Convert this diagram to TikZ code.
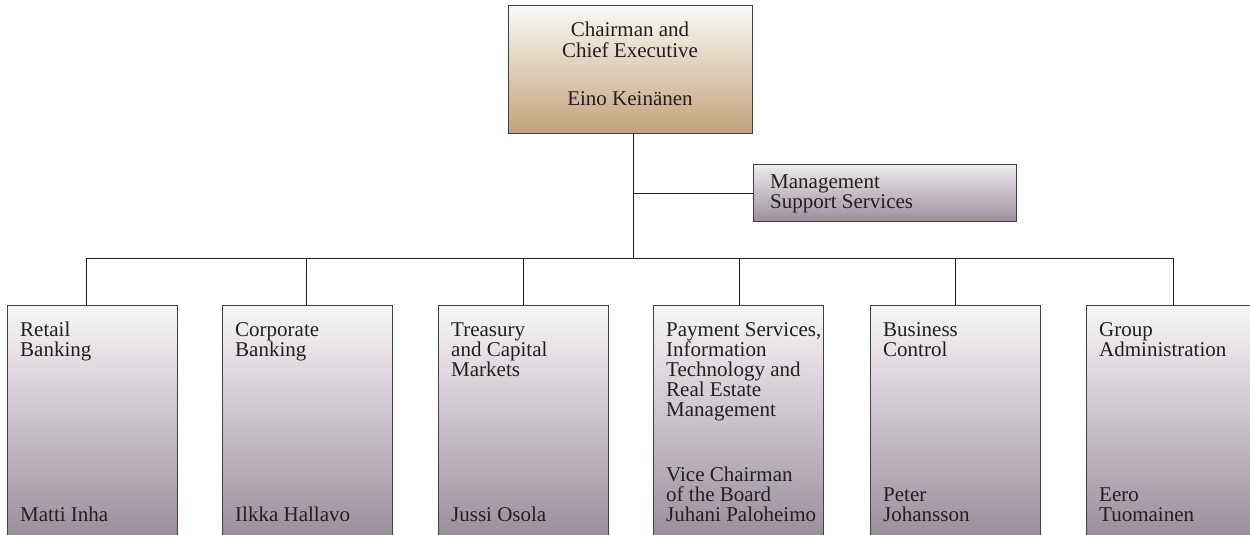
\documentclass[tikz,border=0pt]{standalone}
\usepackage{fontspec}
\setmainfont{Liberation Serif}
\definecolor{ceotop}{HTML}{FBF9F6}
\definecolor{ceobot}{HTML}{C3A27A}
\definecolor{unittop}{HTML}{F8F6F8}
\definecolor{unitbot}{HTML}{958896}
\definecolor{mgtop}{HTML}{EFEBEE}
\definecolor{mgbot}{HTML}{9C8E9C}
\definecolor{ink}{HTML}{231F20}
\definecolor{edge}{HTML}{404040}
\begin{document}
\begin{tikzpicture}[x=1pt,y=-1pt,
  box/.style={rectangle, draw=edge, line width=0.9pt, inner sep=0pt, anchor=north west},
  ceobox/.style={box, top color=ceotop, bottom color=ceobot, minimum width=244pt, minimum height=128pt},
  mgbox/.style={box, top color=mgtop, bottom color=mgbot, minimum width=263pt, minimum height=57pt},
  unitbox/.style={box, top color=unittop, bottom color=unitbot, minimum width=170pt, minimum height=245pt},
  lbl/.style={inner sep=0pt, text=ink, anchor=base west, font=\fontsize{21pt}{20pt}\selectfont},
  clbl/.style={lbl, anchor=base},
  wire/.style={draw=ink, line width=0.8pt}]
\useasboundingbox (0,0) rectangle (1250,535);
\clip (0,0) rectangle (1250,535);

% boxes
\node[ceobox] (ceo) at (508,5) {};
\node[mgbox] (mg) at (753,164) {};
\node[unitbox] (b1) at (7,305) {};
\node[unitbox] (b2) at (222,305) {};
\node[unitbox] (b3) at (438,305) {};
\node[unitbox] (b4) at (653,305) {};
\node[unitbox] (b5) at (870,305) {};
\node[unitbox] (b6) at (1086,305) {};

% connectors
\coordinate (top) at (633,133);
\coordinate (bus) at (633,258);
\coordinate (j1) at (86,258);
\coordinate (j2) at (306,258);
\coordinate (j3) at (523,258);
\coordinate (j4) at (739,258);
\coordinate (j5) at (955,258);
\coordinate (j6) at (1173,258);
\draw[wire] (top) -- (bus);
\draw[wire] (mg.west) -- (mg.west -| top);
\draw[wire] (j1) -- (j6);
\foreach \i in {1,...,6} {\draw[wire] (j\i) -- (j\i |- b\i.north);}

% CEO text
\node[clbl] (c1) at (630,37) {Chairman and};
\node[clbl] (c2) at (630,57.5) {Chief Executive};
\node[clbl] (c3) at (630,105) {Eino Keinänen};

% management text
\node[lbl] (m1) at (770,188) {Management};
\node[lbl] (m2) at (770,208) {Support Services};

% unit texts
\node[lbl] (r1) at (20,336) {Retail};
\node[lbl] (r2) at (20,356) {Banking};
\node[lbl] (r3) at (20,521) {Matti Inha};

\node[lbl] (k1) at (235,336) {Corporate};
\node[lbl] (k2) at (235,356) {Banking};
\node[lbl] (k3) at (235,521) {Ilkka Hallavo};

\node[lbl] (t1) at (451,336) {Treasury};
\node[lbl] (t2) at (451,356) {and Capital};
\node[lbl] (t3) at (451,376) {Markets};
\node[lbl] (t4) at (451,521) {Jussi Osola};

\node[lbl] (p1) at (666,336) {Payment Services,};
\node[lbl] (p2) at (666,356) {Information};
\node[lbl] (p3) at (666,376) {Technology and};
\node[lbl] (p4) at (666,396) {Real Estate};
\node[lbl] (p5) at (666,416) {Management};
\node[lbl] (p6) at (666,481) {Vice Chairman};
\node[lbl] (p7) at (666,501) {of the Board};
\node[lbl] (p8) at (666,521) {Juhani Paloheimo};

\node[lbl] (s1) at (883,336) {Business};
\node[lbl] (s2) at (883,356) {Control};
\node[lbl] (s3) at (883,501) {Peter};
\node[lbl] (s4) at (883,521) {Johansson};

\node[lbl] (g1) at (1099,336) {Group};
\node[lbl] (g2) at (1099,356) {Administration};
\node[lbl] (g3) at (1099,501) {Eero};
\node[lbl] (g4) at (1099,521) {Tuomainen};
\end{tikzpicture}
\end{document}
